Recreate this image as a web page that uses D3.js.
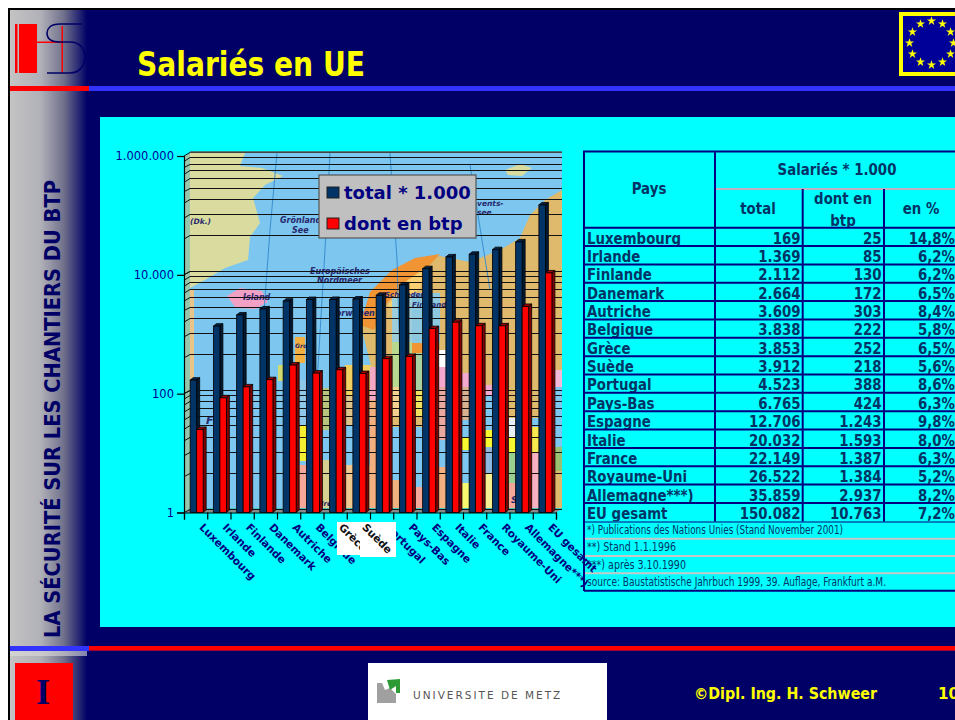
<!DOCTYPE html>
<html><head><meta charset="utf-8">
<style>html,body{margin:0;padding:0;background:#fff;overflow:hidden}svg{display:block}</style>
<script src="https://cdn.jsdelivr.net/npm/d3@7"></script>
</head><body><svg id="c" width="955" height="720"></svg>
<script>
const categories=["Luxembourg","Irlande","Finlande","Danemark","Autriche","Belgique","Grèce","Suède","Portugal","Pays-Bas","Espagne","Italie","France","Royaume-Uni","Allemagne***)","EU gesamt"];
const totals=[169,1369,2112,2664,3609,3838,3853,3912,4523,6765,12706,20032,22149,26522,35859,150082];
const btp=[25,85,130,172,303,222,252,218,388,424,1243,1593,1387,1384,2937,10763];
const percents=[14.8,6.2,6.2,6.5,8.4,5.8,6.5,5.6,8.6,6.3,9.8,8.0,6.3,5.2,8.2,7.2];
const yTicks=[1,100,10000,1000000];
const seriesNames=["total * 1.000","dont en btp"];
const footnotes=["*)  Publications des Nations Unies (Stand November 2001)","**)  Stand 1.1.1996","***)  après 3.10.1990","source: Baustatistische Jahrbuch 1999, 39. Auflage, Frankfurt a.M."];

const svg=d3.select("#c");
const NAVY="#000066",CY="#00ffff",TXT="#003366",LINE="#000080";
const DV="'DejaVu Sans',sans-serif";
const loc=d3.formatLocale({decimal:",",thousands:".",grouping:[3],currency:["",""]});
const fmt=loc.format(",d"),pf=loc.format(".1f");
const R=(g,x,y,w,h,f)=>g.append("rect").attr("x",x).attr("y",y).attr("width",w).attr("height",h).attr("fill",f);
const fit=(sel,w)=>sel.attr("textLength",w).attr("lengthAdjust","spacingAndGlyphs");
const squeeze=(sel,r)=>fit(sel,sel.node().getComputedTextLength()*r);
const crisp=v=>Math.round(v)+.5;

/* ---------- slide frame ---------- */
const defs=svg.append("defs");
const gr=defs.append("linearGradient").attr("id","side");
[[0,"#c4c4c4"],[0.4,"#b0b0b8"],[0.7,"#70708c"],[1,NAVY]].forEach(s=>gr.append("stop").attr("offset",s[0]).attr("stop-color",s[1]));
R(svg,8,8,947,712,"#000");
R(svg,10,10,945,710,NAVY);
R(svg,10,10,77,710,"url(#side)");
R(svg,10,86,79,5,"#ff0000");R(svg,89,86,866,5,"#3333ff");
R(svg,10,646,79,5,"#3333ff");R(svg,89,646,866,5,"#ff0000");
svg.append("line").attr("x1",89).attr("x2",955).attr("y1",650.5).attr("y2",650.5).attr("stroke","#990033");
R(svg,10,651,77,5,"#dcdcdc").attr("opacity",.6);

/* logo */
const logo=svg.append("g");
R(logo,15,24,2.5,49,"#ff0000");R(logo,19,24,18,49,"#ff0000");R(logo,37,41.5,25,1.5,"#ff0000");R(logo,61.5,26,1.5,47,"#ff0000");
logo.append("path").attr("d","M82,24 H60 C50,24 47,29 47,33 C47,39 52,42 60,42 H70 C80,42 85,49 85,57 C85,66 79,73 70,73 H47").attr("fill","none").attr("stroke",NAVY).attr("stroke-width",1.6);

fit(svg.append("text").text("Salariés en UE").attr("x",137).attr("y",76).attr("font-family",DV).attr("font-weight",700).attr("font-size",33).attr("fill","#ffff00"),228);

/* flag */
R(svg,901,14,60,60,"#000099").attr("stroke","#ffff00").attr("stroke-width",4);
const star=d3.symbol().type(d3.symbolStar).size(26);
d3.range(12).forEach(i=>{const a=i*Math.PI/6;
 svg.append("path").attr("d",star).attr("fill","#ffff00").attr("transform",`translate(${931.5+22*Math.sin(a)},${43+22*Math.cos(a)})`);});

fit(svg.append("text").text("LA SÉCURITÉ SUR LES CHANTIERS DU BTP").attr("transform","translate(59.5,638) rotate(-90)").attr("font-family",DV).attr("font-weight",700).attr("font-size",21.5).attr("fill",NAVY),458);

/* footer */
R(svg,15,663,58,57,"#ff0000");
svg.append("text").text("I").attr("x",43).attr("y",704).attr("text-anchor","middle").attr("font-family","'Liberation Serif',serif").attr("font-weight",700).attr("font-size",36).attr("fill",NAVY);
R(svg,368,663,239,57,"#fff");
svg.append("path").attr("d","M377,683 H382 L385,690 L390,688 L396,694 V703 H377 Z").attr("fill","#a0a0a0");
svg.append("path").attr("d","M387,680 L400,679 L400,693 L396,693 L396,686 L390,690 Z").attr("fill","#2e9a35");
svg.append("text").text("UNIVERSITE DE METZ").attr("x",413).attr("y",699).attr("font-family",DV).attr("font-size",10.5).attr("letter-spacing",2).attr("fill","#555");
fit(svg.append("text").text("©Dipl. Ing. H. Schweer").attr("x",694).attr("y",699).attr("font-family",DV).attr("font-weight",700).attr("font-size",15.5).attr("fill","#ffff00"),183);
svg.append("text").text("10").attr("x",938).attr("y",699).attr("font-family",DV).attr("font-weight",700).attr("font-size",15).attr("fill","#ffff00");

/* panel */
R(svg,100,117,855,510,CY);

/* ---------- table ---------- */
const T=svg.append("g");
const rowY=d3.scaleLinear().domain([0,16]).range([227.7,521.3]);
const tt=(s,x,y,a,fs,w,f)=>squeeze(T.append("text").text(s).attr("x",x).attr("y",y).attr("text-anchor",a).attr("font-family",DV).attr("font-weight",w===undefined?700:w).attr("font-size",fs).attr("fill",f||TXT),.89);
tt("Pays",649,194,"middle",15);
tt("Salariés * 1.000",837,175,"middle",15);
tt("total",758,214,"middle",15);
tt("dont en",843,204,"middle",15);
tt("btp",843,226,"middle",15);
tt("en %",921,214,"middle",15);
categories.forEach((c,i)=>{
 const top=rowY(i),bot=rowY(i+1);
 R(T,584,top,371,bot-top+5,CY);
 const y=bot-2.4;
 tt(c,587,y,"start",15);
 tt(fmt(totals[i]),800.5,y,"end",15);
 tt(fmt(btp[i]),881.5,y,"end",15);
 tt(pf(percents[i])+"%",955,y,"end",15);
});
R(T,584,521.3,371,70,CY);
const hl=(x1,x2,y,c,w)=>T.append("line").attr("x1",x1).attr("x2",x2).attr("y1",y).attr("y2",y).attr("stroke",c).attr("stroke-width",w);
const vl=(x,y1,y2,c,w)=>T.append("line").attr("x1",x).attr("x2",x).attr("y1",y1).attr("y2",y2).attr("stroke",c).attr("stroke-width",w);
hl(583,955,151.5,LINE,2);
hl(715,955,189,"#c0b0c0",2);
hl(584,955,227.7,LINE,2);
d3.range(1,16).forEach(i=>hl(584,955,rowY(i),LINE,2));
[538.7,555.9,573.3].forEach(y=>hl(585,955,y,"#c8c8c8",2));
hl(584,955,590.7,LINE,2);
vl(584,151,591,LINE,2);
vl(715,151,521.5,LINE,2);vl(802.7,189,521.5,LINE,2);vl(884,189,521.5,LINE,2);
hl(584,955,522,LINE,1);
const fy=[534,551,568.5,586],fw=[256,89,99,299];
footnotes.forEach((f,i)=>fit(T.append("text").text(f).attr("x",587).attr("y",fy[i]).attr("font-family",DV).attr("font-size",12).attr("fill",TXT),fw[i]));

/* ---------- chart ---------- */
const y=d3.scaleLog().domain([1,1000000]).range([512.5,156]);
const xEdge=d3.scaleLinear().domain([0,16]).range([184,556]);
const x=d3.scaleBand().domain(categories).range([184,556]).paddingInner(.44).paddingOuter(.22).align(.6);
const xs=d3.scaleBand().domain(seriesNames).range([0,x.bandwidth()]);
const dx=6,dy=-4;

/* map background (decorative picture behind the plot) */
const map=svg.append("g");
const cp=defs.append("clipPath").attr("id","wall");
cp.append("rect").attr("x",190).attr("y",153).attr("width",372).attr("height",355);
map.attr("clip-path","url(#wall)");
R(map,190,153,372,355,"#7cc6ef");
const poly=(pts,f)=>map.append("path").attr("d","M"+pts.join("L")+"Z").attr("fill",f);
poly([[190,153],[245,153],[240,166],[262,168],[283,176],[265,185],[253,198],[260,223],[250,237],[248,260],[225,268],[205,280],[190,288]],"#d9dc9e");
poly([[227,296],[240,288],[262,291],[268,302],[255,309],[236,308]],"#f2a0c4");
poly([[505,170],[520,164],[532,168],[522,176],[508,175]],"#d9dc9e");
poly([[562,190],[545,200],[530,215],[520,238],[500,250],[470,262],[440,256],[415,262],[395,272],[372,292],[362,330],[372,370],[372,508],[562,508],[562,190]],"#dfb96c");
poly([[440,254],[415,258],[392,270],[370,292],[360,325],[374,330],[385,305],[405,285],[425,270]],"#f09434");
poly([[425,268],[405,282],[388,305],[396,312],[420,288]],"#f8d070");
const patches=[
[295,337,10,26,"#f2b040"],[278,365,6,16,"#cfdc70"],[300,425,7,36,"#f6ee30"],[296,465,10,43,"#f6a898"],[300,380,7,45,"#8fc8e8"],
[322,388,25,42,"#b7c27c"],[322,430,25,30,"#7cc6ef"],[322,460,25,48,"#d8d090"],[345,365,26,30,"#f0d060"],[345,395,26,30,"#dcc48a"],
[345,425,26,40,"#7cc6ef"],[345,465,26,43,"#f0c890"],[370,367,8,33,"#f4a8c4"],[370,400,8,108,"#f2b080"],[392,297,20,45,"#9ccdd8"],
[392,342,24,45,"#b8d890"],[392,387,8,30,"#f4d090"],[392,427,8,53,"#7cc6ef"],[392,480,8,28,"#f0b080"],[412,293,28,50,"#8cc8e0"],
[412,343,27,10,"#f09434"],[415,353,10,37,"#a8d0a0"],[415,390,8,27,"#f0e060"],[415,427,8,60,"#7cc6ef"],[415,487,8,21,"#f6a898"],
[439,350,7,20,"#fff"],[439,367,7,20,"#f4a8d0"],[439,387,7,53,"#e8a8a0"],[439,440,7,27,"#7cc6ef"],[439,467,7,41,"#f2b080"],
[462,373,8,14,"#f4a8d0"],[462,387,8,33,"#d8b090"],[462,420,8,17,"#7cc6ef"],[462,437,8,13,"#f8f830"],[462,450,8,33,"#7cc6ef"],[462,483,8,25,"#f8f870"],
[485,385,8,10,"#f4a8d0"],[485,395,8,35,"#7cc6ef"],[485,430,8,17,"#f8f830"],[485,447,8,26,"#8cb8e0"],[485,473,8,35,"#f6f090"],
[509,418,7,19,"#e8f0f8"],[509,437,7,16,"#f8f830"],[509,453,7,30,"#98d090"],[509,483,7,25,"#f6a898"],
[532,427,9,26,"#f8e850"],[532,453,9,55,"#f6b0c0"],[532,418,9,9,"#7cc6ef"],
[552,370,10,17,"#f4b8d8"],[552,387,10,60,"#7cc6ef"],[552,447,10,24,"#98c070"],[552,471,10,37,"#dfb96c"],
[190,290,4,218,"#e8c488"]];
patches.forEach(p=>R(map,p[0],p[1],p[2],p[3],p[4]));
[[[277,153],[270,230],[262,340]],[[330,153],[325,250],[316,400]],[[390,153],[397,260],[404,500]],[[470,165],[490,290]]].forEach(l=>
 map.append("path").attr("d",d3.line()(l)).attr("fill","none").attr("stroke","#3b8fd0").attr("stroke-width",1));
[["Grönland-",280,223,8],["See",292,233,8],["Europäisches",310,274,8],["Nordmeer",317,283,8],["(Dk.)",190,224,7.5],["Island",243,300,8],["Norwegen",329,316,8],["vents-",477,206,7.5],["see",477,215,7.5],
 ["Finnland",412,307,7],["Schweden",385,297,7],["Gross",295,348,6],["Ire",321,506,7],["SM",511,503,9],["F",206,424,11]].forEach(t=>
 map.append("text").text(t[0]).attr("x",t[1]).attr("y",t[2]).attr("font-family",DV).attr("font-style","italic").attr("font-weight",700).attr("font-size",t[3]).attr("fill","#28286e"));

/* floor and wall edge */
svg.append("path").attr("d",`M184,${y(1)} L190,${y(1)+dy} H562 L556,${y(1)} Z`).attr("fill","#8a8a8a");
svg.append("path").attr("d",`M184,${y(1)} L190,${y(1)+dy} V153 L184,156 Z`).attr("fill","#c8b490").attr("opacity",.75);

/* log gridlines: ten subdivisions per labelled decade, on the squares of 1..10 */
const gridVals=[];
yTicks.slice(0,-1).forEach(m=>d3.range(1,11).forEach(k=>gridVals.push(m*k*k)));
const grid=svg.append("g").attr("stroke","#111").attr("stroke-width",1).attr("fill","none");
gridVals.forEach(v=>{
 const yy=y(v);
 grid.append("path").attr("d",`M184,${yy} L190,${crisp(yy+dy)} H562`);
});
svg.append("line").attr("x1",190).attr("x2",562).attr("y1",y(1e6)+dy).attr("y2",y(1e6)+dy).attr("stroke","#555").attr("stroke-width",1.5);

/* bars with depth */
const bar=(g,x0,w,v,front,top,side)=>{
 const yy=y(v),b=y(1),d=3,e=-2.5;
 g.append("path").attr("d",`M${x0},${yy} l${d},${e} h${w} l${-d},${-e} Z`).attr("fill",top).attr("stroke","#000").attr("stroke-width",.8);
 g.append("path").attr("d",`M${x0+w},${yy} l${d},${e} V${b+e} L${x0+w},${b} Z`).attr("fill",side).attr("stroke","#000").attr("stroke-width",.8);
 R(g,x0,yy,w,b-yy,front).attr("stroke","#000").attr("stroke-width",.8);
};
const bars=svg.append("g");
categories.forEach((c,i)=>{
 bar(bars,x(c)+xs(seriesNames[0]),xs.bandwidth(),totals[i],"#003366","#00254d","#001a33");
 bar(bars,x(c)+xs(seriesNames[1]),xs.bandwidth(),btp[i],"#ff0000","#a00000","#800000");
});

/* axes */
const ya=d3.axisLeft(y).tickValues(yTicks).tickFormat(d=>fmt(d)).tickSize(7).tickPadding(3);
const yg=svg.append("g").attr("transform","translate(184,0)").call(ya);
yg.selectAll("text").attr("font-family",DV).attr("font-size",11.5).attr("fill","#000099");
yg.selectAll("line,path").attr("stroke","#000").attr("stroke-width",1.2);
const xa=d3.axisBottom(xEdge).tickValues(d3.range(17)).tickFormat("").tickSize(7).tickSizeOuter(7);
const xg=svg.append("g").attr("transform",`translate(0,${y(1)})`).call(xa);
xg.selectAll("line,path").attr("stroke","#000").attr("stroke-width",1.2);

/* category labels */
const label=(c,fill)=>svg.append("text").text(c).attr("transform",`translate(${x(c)+x.bandwidth()/2+2},528) rotate(45)`)
 .attr("font-family",DV).attr("font-weight",700).attr("font-size",10.6).attr("fill",fill);
const pasted=["Grèce","Suède"];
categories.filter(c=>!pasted.includes(c)).forEach(c=>label(c,"#000080"));
R(svg,337,522,24,33,"#fff");
label("Grèce","#111");
R(svg,360,522,36,35,"#fff");
label("Suède","#111");

/* legend */
R(svg,319,175,157,63,"#c0c0c0").attr("stroke","#555").attr("stroke-width",1.2);
[["#003366",187],["#ff0000",218]].forEach(s=>R(svg,327,s[1],12,11,s[0]).attr("stroke","#222"));
seriesNames.forEach((n,i)=>svg.append("text").text(n).attr("x",344).attr("y",i?230:199).attr("font-family",DV).attr("font-weight",700).attr("font-size",18).attr("fill","#000080"));
</script></body></html>
